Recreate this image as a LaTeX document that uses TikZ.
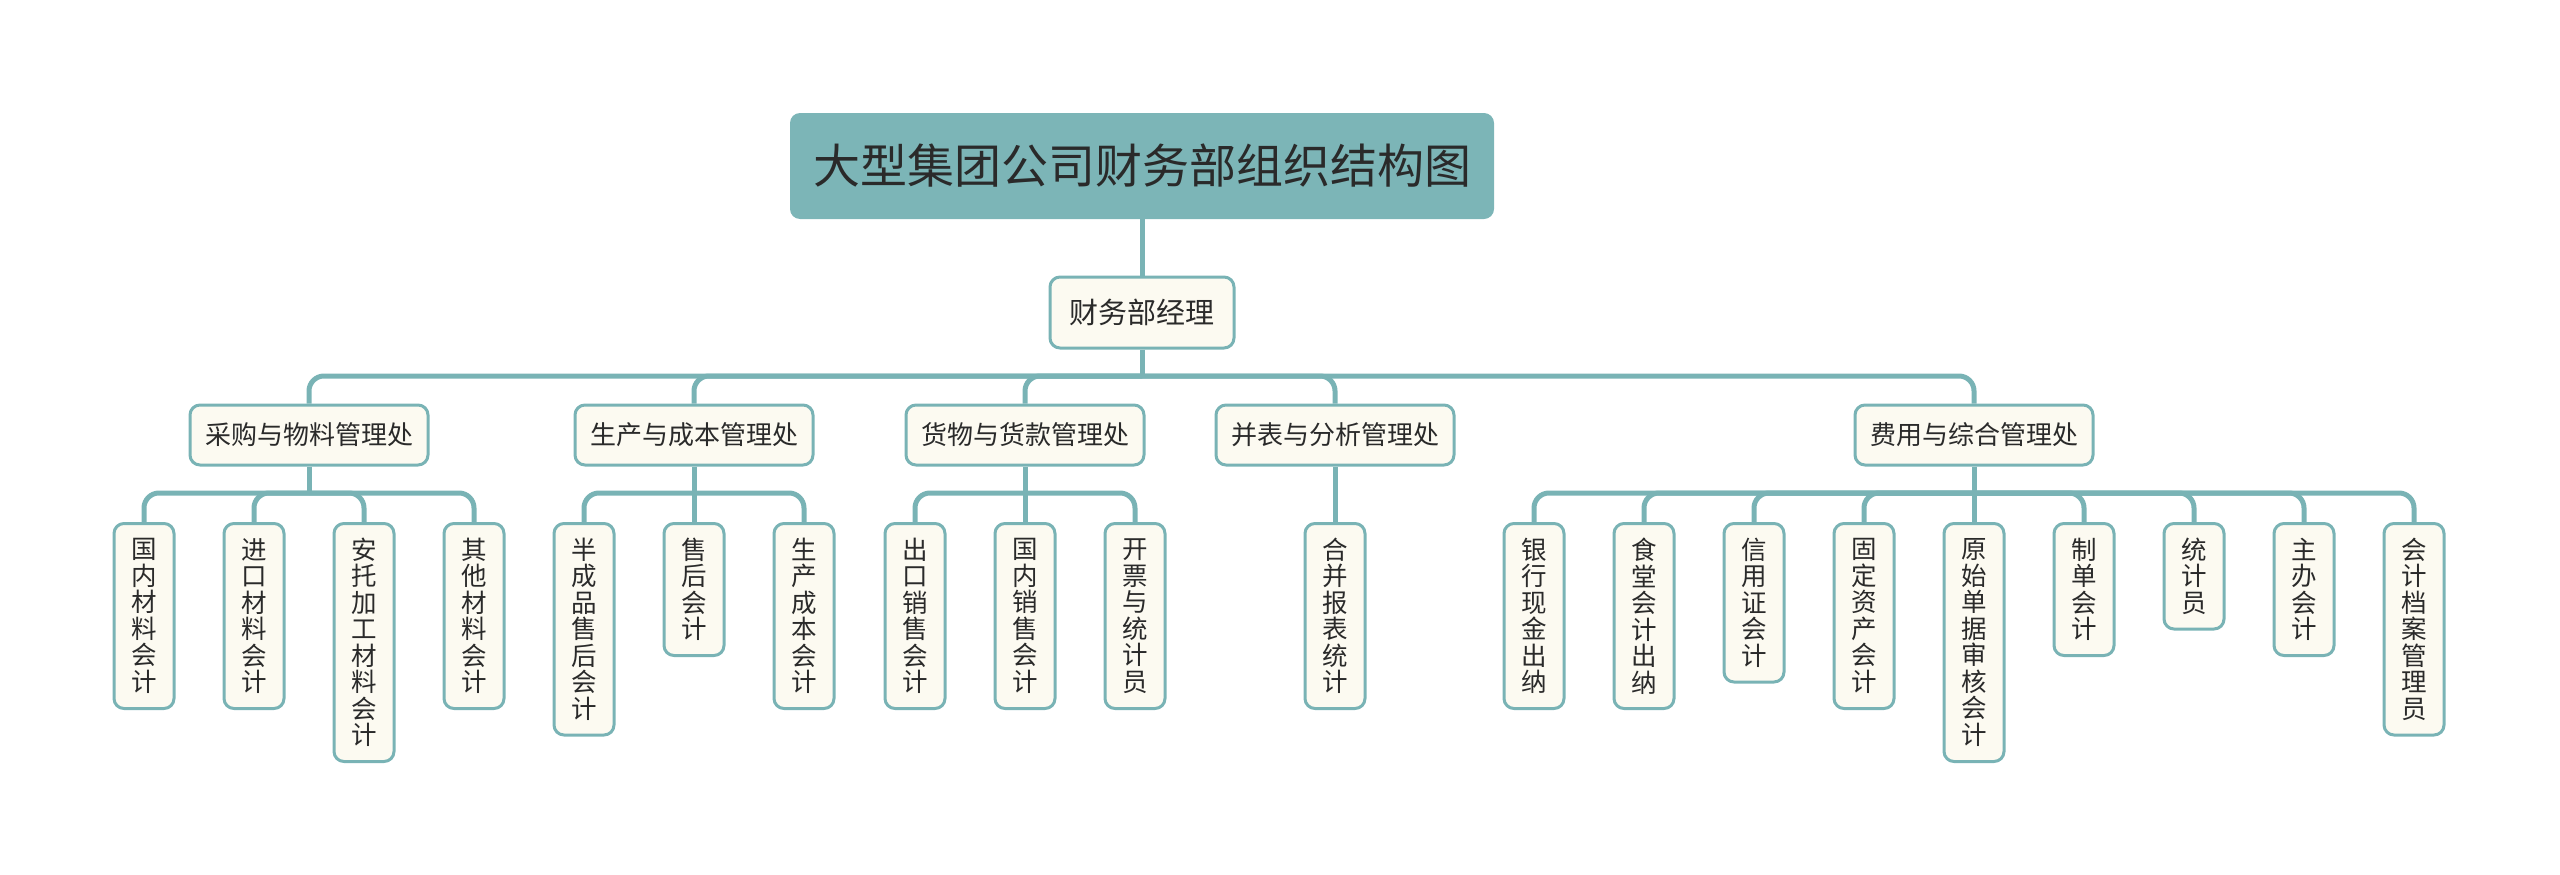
\documentclass[tikz,border=0pt]{standalone}
\usepackage{fontspec}
\setmainfont{Noto Sans CJK SC}
\usetikzlibrary{backgrounds}
\definecolor{teal1}{HTML}{79B3B5}
\definecolor{rootfill}{HTML}{7CB5B7}
\definecolor{boxfill}{HTML}{FCFAF1}
\definecolor{txt}{HTML}{2A2A2A}
\tikzset{
  conn/.style={draw=teal1, line width=5pt, rounded corners=15pt},
  rootbox/.style={fill=rootfill, draw=none, rounded corners=10pt, minimum width=704pt, minimum height=106pt, text=txt, font=\fontsize{47}{55}\selectfont, inner sep=0pt},
  mgrbox/.style={fill=boxfill, draw=teal1, line width=3pt, rounded corners=10pt, minimum width=184pt, minimum height=71pt, text=txt, font=\fontsize{29}{34}\selectfont, inner sep=0pt},
  deptbox/.style={fill=boxfill, draw=teal1, line width=3pt, rounded corners=10pt, minimum width=238pt, minimum height=60pt, text=txt, font=\fontsize{26}{30}\selectfont, inner sep=0pt},
  leafbox/.style={fill=boxfill, draw=teal1, line width=3pt, rounded corners=10pt, minimum width=60pt, minimum height=#1, text=txt, font=\fontsize{25.5}{26.5}\selectfont, inner sep=0pt, align=center, anchor=north},
}
\begin{document}
\begin{tikzpicture}[x=1pt,y=-1pt]
\useasboundingbox (0,0) rectangle (2560,875);
% root and manager
\node[rootbox] (root) at (1142,166) {大型集团公司财务部组织结构图};
\node[mgrbox] (mgr) at (1142,312.5) {财务部经理};
\coordinate (jm) at (1142,376);
% departments
\node[deptbox] (a) at (309,435) {采购与物料管理处};
\node[deptbox] (b) at (694,435) {生产与成本管理处};
\node[deptbox] (c) at (1025,435) {货物与货款管理处};
\node[deptbox] (d) at (1335,435) {并表与分析管理处};
\node[deptbox] (e) at (1974,435) {费用与综合管理处};
\coordinate (ja) at (309,493);
\coordinate (jb) at (694,493);
\coordinate (jc) at (1025,493);
\coordinate (je) at (1974,493);
% leaves
\node[leafbox=185pt] (a1) at (144,522) {国\\内\\材\\料\\会\\计};
\node[leafbox=185pt] (a2) at (254,522) {进\\口\\材\\料\\会\\计};
\node[leafbox=238pt] (a3) at (364,522) {安\\托\\加\\工\\材\\料\\会\\计};
\node[leafbox=185pt] (a4) at (474,522) {其\\他\\材\\料\\会\\计};
\node[leafbox=211.5pt] (b1) at (584,522) {半\\成\\品\\售\\后\\会\\计};
\node[leafbox=132pt] (b2) at (694,522) {售\\后\\会\\计};
\node[leafbox=185pt] (b3) at (804,522) {生\\产\\成\\本\\会\\计};
\node[leafbox=185pt] (c1) at (915,522) {出\\口\\销\\售\\会\\计};
\node[leafbox=185pt] (c2) at (1025,522) {国\\内\\销\\售\\会\\计};
\node[leafbox=185pt] (c3) at (1135,522) {开\\票\\与\\统\\计\\员};
\node[leafbox=185pt] (d1) at (1335,522) {合\\并\\报\\表\\统\\计};
\node[leafbox=185pt] (e1) at (1534,522) {银\\行\\现\\金\\出\\纳};
\node[leafbox=185pt] (e2) at (1644,522) {食\\堂\\会\\计\\出\\纳};
\node[leafbox=158.5pt] (e3) at (1754,522) {信\\用\\证\\会\\计};
\node[leafbox=185pt] (e4) at (1864,522) {固\\定\\资\\产\\会\\计};
\node[leafbox=238pt] (e5) at (1974,522) {原\\始\\单\\据\\审\\核\\会\\计};
\node[leafbox=132pt] (e6) at (2084,522) {制\\单\\会\\计};
\node[leafbox=105.5pt] (e7) at (2194,522) {统\\计\\员};
\node[leafbox=132pt] (e8) at (2304,522) {主\\办\\会\\计};
\node[leafbox=211.5pt] (e9) at (2414,522) {会\\计\\档\\案\\管\\理\\员};
% connectors
\begin{pgfonlayer}{background}
\draw[conn] (root.south) -- (mgr.north);
\draw[conn] (mgr.south) -- (jm);
\foreach \c in {a,b,c,d,e} \draw[conn] (jm) -| (\c.north);
\draw[conn] (a.south) -- (ja);
\foreach \c in {a1,a2,a3,a4} \draw[conn] (ja) -| (\c.north);
\draw[conn] (b.south) -- (jb);
\draw[conn] (jb) -- (b2.north);
\foreach \c in {b1,b3} \draw[conn] (jb) -| (\c.north);
\draw[conn] (c.south) -- (jc);
\draw[conn] (jc) -- (c2.north);
\foreach \c in {c1,c3} \draw[conn] (jc) -| (\c.north);
\draw[conn] (d.south) -- (d1.north);
\draw[conn] (e.south) -- (je);
\draw[conn] (je) -- (e5.north);
\foreach \c in {e1,e2,e3,e4,e6,e7,e8,e9} \draw[conn] (je) -| (\c.north);
\end{pgfonlayer}
\end{tikzpicture}
\end{document}
